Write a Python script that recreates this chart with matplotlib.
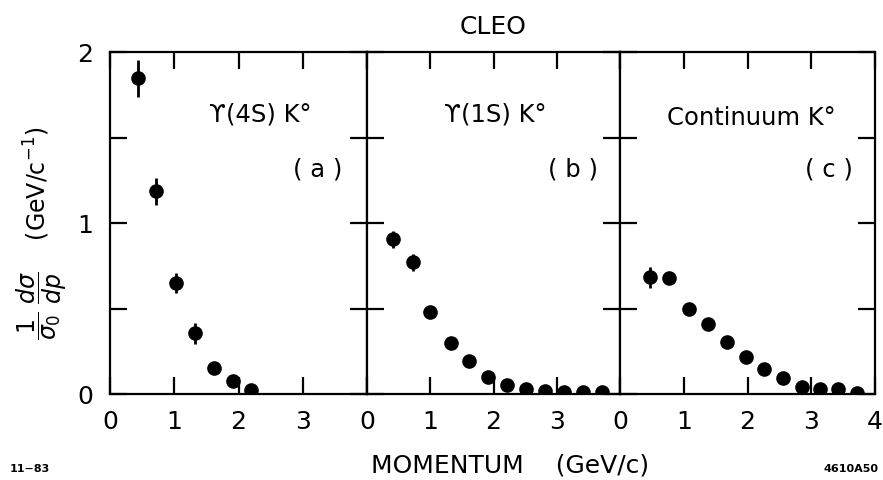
import matplotlib
matplotlib.use("Agg")
import matplotlib.pyplot as plt

# ---- data ----
p_4s = [0.44, 0.72, 1.03, 1.33, 1.625, 1.91, 2.20]
y_4s = [1.846, 1.185, 0.649, 0.355, 0.152, 0.078, 0.023]
e_4s = [0.11, 0.08, 0.06, 0.06, 0.0, 0.0, 0.0]

p_1s = [0.41, 0.72, 1.00, 1.33, 1.61, 1.92, 2.22, 2.51, 2.82, 3.12, 3.42, 3.71]
y_1s = [0.906, 0.770, 0.478, 0.296, 0.195, 0.101, 0.053, 0.029, 0.016, 0.012, 0.012, 0.010]
e_1s = [0.05, 0.05, 0, 0, 0, 0, 0, 0, 0, 0, 0, 0]

p_co = [0.47, 0.77, 1.09, 1.38, 1.68, 1.97, 2.26, 2.55, 2.85, 3.13, 3.42, 3.71]
y_co = [0.682, 0.676, 0.497, 0.409, 0.302, 0.214, 0.146, 0.092, 0.043, 0.029, 0.029, 0.006]
e_co = [0.06, 0, 0, 0, 0, 0, 0, 0, 0, 0, 0, 0]

panel_titles = ["ϒ(4S) K°", "ϒ(1S) K°", "Continuum K°"]
panel_tags = ["( a )", "( b )", "( c )"]
xtick_vals = [0, 1, 2, 3, 4]
xtick_labels_a = ["0", "1", "2", "3", ""]
xtick_labels_c = ["0", "1", "2", "3", "4"]
ytick_vals = [0, 0.5, 1, 1.5, 2]
ytick_labels = ["0", "", "1", "", "2"]

W, H = 883, 481
fig = plt.figure(figsize=(W / 100, H / 100), dpi=100)
plt.rcParams["font.family"] = ["DejaVu Sans"]

edges = [110, 367, 620, 875]
bottom_px, top_px = 395, 53

datasets = [(p_4s, y_4s, e_4s), (p_1s, y_1s, e_1s), (p_co, y_co, e_co)]
text_pos = [((2.34, 1.64), (3.23, 1.32)),
            ((2.02, 1.64), (3.25, 1.32)),
            ((2.06, 1.62), (3.28, 1.32))]

axes = []
for i in range(3):
    l = edges[i] / W
    w = (edges[i + 1] - edges[i]) / W
    b = 1 - bottom_px / H
    h = (bottom_px - top_px) / H
    ax = fig.add_axes([l, b, w, h])
    axes.append(ax)
    px, py, pe = datasets[i]
    ax.errorbar(px, py, yerr=pe, fmt="o", color="black", markersize=9.5,
                elinewidth=2, capsize=0)
    ax.set_xlim(0, 4)
    ax.set_ylim(0, 2)
    for s in ax.spines.values():
        s.set_linewidth(1.6)
    ax.tick_params(direction="in", length=12, width=1.6, top=True, right=True,
                   labelsize=18)
    ax.tick_params(axis="x", pad=11)
    ax.tick_params(axis="y", pad=12)
    ax.set_xticks(xtick_vals)
    ax.set_xticklabels(xtick_labels_c if i == 2 else xtick_labels_a)
    ax.set_yticks(ytick_vals)
    if i == 0:
        ax.set_yticklabels(ytick_labels)
    else:
        ax.set_yticklabels([])
    (tx, ty), (gx, gy) = text_pos[i]
    ax.text(tx, ty, panel_titles[i], ha="center", va="center", fontsize=17.5)
    ax.text(gx, gy, panel_tags[i], ha="center", va="center", fontsize=17.5)

axes[1].set_title("CLEO", fontsize=18, pad=14)

fig.text(510 / W, 1 - 466 / H, "MOMENTUM    (GeV/c)", ha="center", va="center",
         fontsize=18)
fig.text(42 / W, 1 - 233 / H,
         r"$\dfrac{1}{\sigma_0}\ \dfrac{d\sigma}{dp}$    (GeV/c$^{-1}$)",
         rotation=90, ha="center", va="center", fontsize=17)
fig.text(10 / W, 1 - 469 / H, "11−83", ha="left", va="center", fontsize=8,
         fontweight="bold")
fig.text(878 / W, 1 - 469 / H, "4610A50", ha="right", va="center", fontsize=8,
         fontweight="bold")

fig.savefig("out.png", dpi=100)
